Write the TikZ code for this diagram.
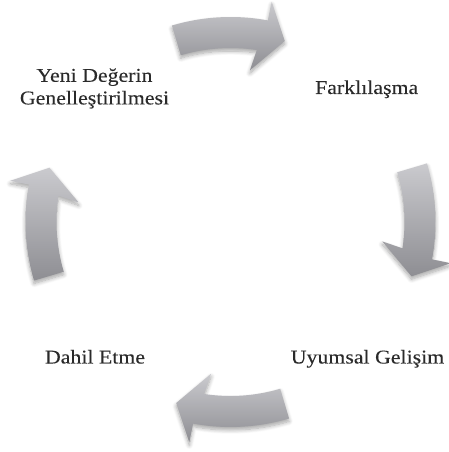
\documentclass[tikz,border=0pt]{standalone}
\usepackage{fontspec}
\setmainfont[FakeStretch=1.12, FakeBold=0.12]{Liberation Serif}
\usetikzlibrary{shadows.blur}
\definecolor{arrtop}{HTML}{CACACE}
\definecolor{arrbot}{HTML}{8E8E93}
\definecolor{txt}{HTML}{2A2A2A}
\tikzset{
  cyclearrow/.style={top color=arrtop, bottom color=arrbot, draw=none,
    blur shadow={shadow xshift=0pt, shadow yshift=-3pt, shadow blur radius=4pt, shadow blur steps=8, shadow opacity=35}},
  lbl/.style={inner sep=0pt, text=txt, font=\fontsize{19.5}{22.6}\selectfont}
}
\newcommand{\cyclearr}[2]{%
  \path[cyclearrow] ($(#1)+({#2+16.6}:205)$) arc[start angle={#2+16.6}, end angle={#2-10.5}, radius=205]
    -- ($(#1)+({#2-10.6}:224)$)
    -- ($(#1)+({#2-16.7}:189)$)
    -- ($(#1)+({#2-7.3}:153)$)
    -- ($(#1)+({#2-8.7}:174)$)
    arc[start angle={#2-8.7}, end angle={#2+16.6}, radius=174] -- cycle;}
\usetikzlibrary{calc}
\begin{document}
\begin{tikzpicture}[x=1pt,y=1pt]
\useasboundingbox (0,0) rectangle (448,452);
\coordinate (c) at (230.5,230);
\cyclearr{c}{90}
\cyclearr{c}{0}
\cyclearr{c}{-90}
\cyclearr{c}{180}
\node[lbl, align=center, anchor=center] (yeni) at (94.5,363.5) {Yeni Değerin\\Genelleştirilmesi};
\node[lbl, anchor=base] (fark) at (366.7,358) {Farklılaşma};
\node[lbl, anchor=base] (uyum) at (367.5,88.5) {Uyumsal Gelişim};
\node[lbl, anchor=base] (dahil) at (95,88.5) {Dahil Etme};
\end{tikzpicture}
\end{document}
